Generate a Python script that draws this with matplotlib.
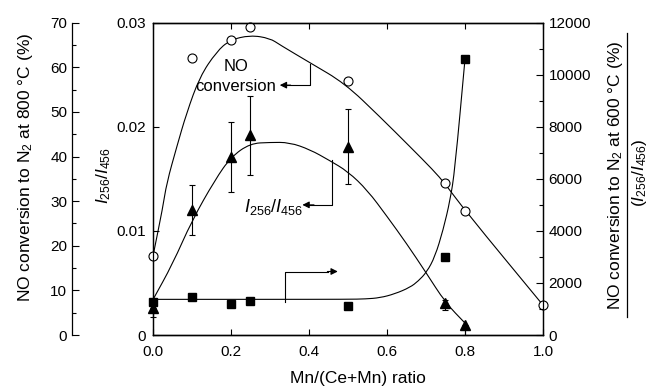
import matplotlib
matplotlib.use("Agg")
import matplotlib.pyplot as plt
from matplotlib.path import Path
from matplotlib.patches import PathPatch
from matplotlib.ticker import MultipleLocator
from matplotlib.lines import Line2D

plt.rcParams['font.family'] = ['Liberation Sans', 'DejaVu Sans']
plt.rcParams['mathtext.fontset'] = 'custom'
plt.rcParams['mathtext.rm'] = 'Liberation Sans'
plt.rcParams['mathtext.it'] = 'Liberation Sans:italic'
plt.rcParams['font.size'] = 11

# measured points
x = [0.0, 0.1, 0.2, 0.25, 0.5, 0.75, 0.8]
no800_x = [0.0, 0.1, 0.2, 0.25, 0.5, 0.75, 0.8, 1.0]
no800 = [17.7, 62.1, 66.1, 69.1, 57.0, 34.0, 27.9, 6.7]
ratio = [0.0026, 0.0120, 0.0171, 0.0192, 0.0181, 0.0031, 0.0010]
ratio_err_lo = [0.0009, 0.0024, 0.0034, 0.0038, 0.0036, 0.0007, 0.0010]
ratio_err_hi = [0.0, 0.0024, 0.0034, 0.0038, 0.0036, 0.0003, 0.0]
no600_per_ratio = [1280, 1450, 1180, 1290, 1110, 3010, 10590]

# guide curves
fit_no_x = [0.0, 0.025, 0.035, 0.061, 0.086, 0.12, 0.163, 0.197, 0.249, 0.30,
            0.326, 0.403, 0.492, 0.582, 0.659, 0.718, 0.75, 0.8, 1.0]
fit_no_y = [17.7, 28.5, 34.0, 42.2, 49.7, 57.9, 63.5, 66.1, 67.2, 66.5,
            65.0, 61.0, 56.4, 48.9, 42.2, 37.0, 33.8, 27.9, 6.7]
fit_ratio_x = [0.0, 0.05, 0.1, 0.159, 0.2, 0.249, 0.3, 0.35, 0.403, 0.451,
               0.5, 0.55, 0.6, 0.65, 0.7, 0.75, 0.8]
fit_ratio_y = [0.0034, 0.0068, 0.0110, 0.0149, 0.0171, 0.0184, 0.0185, 0.0185,
               0.0178, 0.0168, 0.0157, 0.0139, 0.0114, 0.0088, 0.0060, 0.0031, 0.00115]
fit_sq_x = [0.0, 0.3, 0.5, 0.545, 0.582, 0.62, 0.659, 0.68, 0.702, 0.723,
            0.744, 0.762, 0.774, 0.8]
fit_sq_y = [1370, 1370, 1372, 1385, 1430, 1580, 1830, 2070, 2420, 3008,
            4035, 5187, 6340, 10590]


def smooth(ax, xs, ys):
    pts = list(zip(xs, ys))
    verts = [pts[0]]
    codes = [Path.MOVETO]
    mid = ((pts[0][0] + pts[1][0]) / 2, (pts[0][1] + pts[1][1]) / 2)
    verts.append(mid)
    codes.append(Path.LINETO)
    for i in range(1, len(pts) - 1):
        nxt = ((pts[i][0] + pts[i + 1][0]) / 2, (pts[i][1] + pts[i + 1][1]) / 2)
        verts += [pts[i], nxt]
        codes += [Path.CURVE3, Path.CURVE3]
    verts.append(pts[-1])
    codes.append(Path.LINETO)
    ax.add_patch(PathPatch(Path(verts, codes), fill=False, lw=0.8, color='black'))


fig = plt.figure(figsize=(6.58, 3.91), dpi=100)
ax = fig.add_axes([0.2325, 0.1432, 0.5927, 0.7988])
ax_out = ax.twinx()
ax_r = ax.twinx()

ax_out.spines['right'].set_visible(False)
ax_out.spines['left'].set_visible(True)
ax_out.spines['left'].set_position(('outward', 58.3))
ax_out.yaxis.set_ticks_position('left')
ax_out.yaxis.set_label_position('left')

ax.set_xlim(0, 1.0)
ax.set_ylim(0, 0.03)
ax_out.set_ylim(0, 70)
ax_r.set_ylim(0, 12000)

ax.set_xticks([0, 0.2, 0.4, 0.6, 0.8, 1.0])
ax.set_xticklabels(['0.0', '0.2', '0.4', '0.6', '0.8', '1.0'])
ax.set_yticks([0, 0.01, 0.02, 0.03])
ax.set_yticklabels(['0', '0.01', '0.02', '0.03'])
ax_out.yaxis.set_major_locator(MultipleLocator(10))
ax_out.yaxis.set_minor_locator(MultipleLocator(5))
ax_r.yaxis.set_major_locator(MultipleLocator(2000))
ax_r.yaxis.set_minor_locator(MultipleLocator(1000))

ax.tick_params(direction='in', top=True, length=4, width=0.8, labelsize=11)
ax.tick_params(axis='x', pad=7)
ax.tick_params(axis='y', pad=5)
ax_out.tick_params(which='both', direction='in', width=0.8, labelsize=11)
ax_out.tick_params(which='major', length=5)
ax_out.tick_params(which='minor', length=3)
ax_r.tick_params(which='both', direction='in', width=0.8, labelsize=11)
ax_r.tick_params(which='major', length=5, pad=4)
ax_r.tick_params(which='minor', length=3)
for a in (ax, ax_out, ax_r):
    for s in a.spines.values():
        s.set_linewidth(0.9)

# curves
smooth(ax_out, fit_no_x, fit_no_y)
smooth(ax, fit_ratio_x, fit_ratio_y)
smooth(ax_r, fit_sq_x, fit_sq_y)

# markers
ax.errorbar(x, ratio, yerr=[ratio_err_lo, ratio_err_hi], fmt='none', ecolor='black',
            elinewidth=0.8, capsize=2.2, capthick=0.8, clip_on=False)
ax.plot(x, ratio, ls='none', marker='^', ms=7.5, color='black', clip_on=False, zorder=5)
ax_r.plot(x, no600_per_ratio, ls='none', marker='s', ms=6, color='black',
          clip_on=False, zorder=5)
ax_out.plot(no800_x, no800, ls='none', marker='o', ms=6.5, mfc='white', mec='black',
            mew=0.8, clip_on=False, zorder=6)

# bracket arrows
ax.plot([0.4026, 0.4026, 0.33], [0.0260, 0.0240, 0.0240], color='black', lw=0.8)
ax.annotate('', xy=(0.318, 0.0240), xytext=(0.36, 0.0240),
            arrowprops=dict(arrowstyle='-|>', color='black', lw=0.8,
                            mutation_scale=10))
ax.plot([0.458, 0.458, 0.40], [0.0168, 0.0125, 0.0125], color='black', lw=0.8)
ax.annotate('', xy=(0.376, 0.0125), xytext=(0.42, 0.0125),
            arrowprops=dict(arrowstyle='-|>', color='black', lw=0.8,
                            mutation_scale=10))
ax.plot([0.3385, 0.3385, 0.45], [0.0032, 0.0061, 0.0061], color='black', lw=0.8)
ax.annotate('', xy=(0.481, 0.0061), xytext=(0.44, 0.0061),
            arrowprops=dict(arrowstyle='-|>', color='black', lw=0.8,
                            mutation_scale=10))

ax.text(0.213, 0.0258, 'NO', ha='center', va='center', fontsize=12)
ax.text(0.213, 0.0239, 'conversion', ha='center', va='center', fontsize=12)
ax.text(0.308, 0.0123, r'$\mathit{I}_{\mathrm{256}}/\mathit{I}_{\mathrm{456}}$',
        ha='center', va='center', fontsize=13)

# axis labels
fig.text(0.5433, 0.033, 'Mn/(Ce+Mn) ratio', ha='center', va='center', fontsize=12.5)
fig.text(0.038, 0.5716, r'NO conversion to N$_{\mathrm{2}}$ at 800 °C (%)',
         rotation=90, ha='center', va='center', fontsize=12.5)
fig.text(0.157, 0.5524, r'$\mathit{I}_{\mathrm{256}}/\mathit{I}_{\mathrm{456}}$',
         rotation=90, ha='center', va='center', fontsize=12.5)
fig.text(0.9347, 0.552, r'NO conversion to N$_{\mathrm{2}}$ at 600 °C (%)',
         rotation=90, ha='center', va='center', fontsize=12.5)
fig.add_artist(Line2D([0.953, 0.953], [0.189, 0.9156], color='black', lw=0.9))
fig.text(0.9726, 0.5575, r'($\mathit{I}_{\mathrm{256}}/\mathit{I}_{\mathrm{456}}$)',
         rotation=90, ha='center', va='center', fontsize=12.5)

fig.savefig('out.png', dpi=100)
